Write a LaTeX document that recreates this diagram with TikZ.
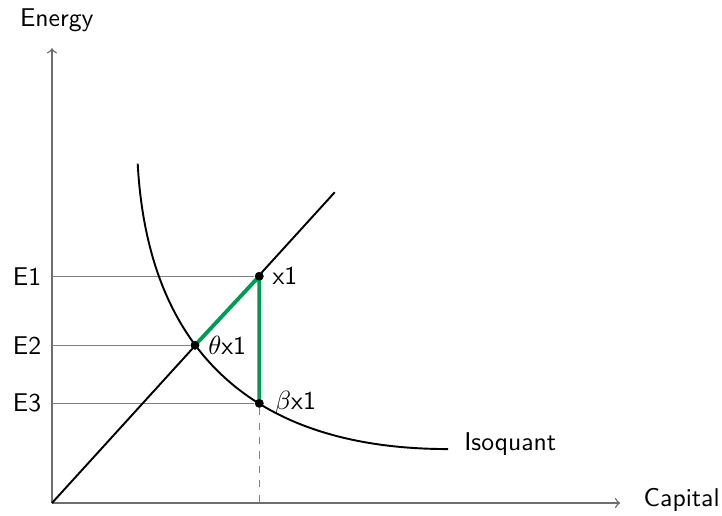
\documentclass[tikz,border=0pt]{standalone}
\usepackage{xcolor}
\usepackage{amsmath}
\usepackage{tikz}
\usetikzlibrary{positioning}
\definecolor{isogreen}{RGB}{0,154,84}
\definecolor{axisgray}{RGB}{110,110,110}

\begin{document}
\begin{tikzpicture}[font=\sffamily\fontsize{10.7pt}{13pt}\selectfont,
  axis/.style={->, axisgray, line width=0.6pt},
  guide/.style={gray, line width=0.4pt},
  dot/.style={circle, fill=black, inner sep=0pt, minimum size=3.6pt}]
\useasboundingbox (-0.761,-0.176) rectangle (9.81,7.365);

\coordinate (O) at (0,0);
\coordinate (xend) at (8.32,0);
\coordinate (yend) at (0,6.66);
\coordinate (rayend) at (4.14,4.55);
\coordinate (isostart) at (1.255,4.97);
\coordinate (isoend) at (5.80,0.79);

% axes
\draw[axis] (O) -- (xend);
\draw[axis] (O) -- (yend);
\node (energy) at (0.07,7.07) {Energy};
\node (capital) at (9.22,0.04) {Capital};

% points on the ray and the isoquant
\node[dot] (x1) at (3.035,3.32) {};
\node[dot] (tx1) at (2.094,2.31) {};
\node[dot] (bx1) at (3.035,1.46) {};

% energy levels
\node[left=1pt] (e1) at (0,3.32) {E1};
\node[left=1pt] (e2) at (0,2.31) {E2};
\node[left=1pt] (e3) at (0,1.46) {E3};
\draw[guide] (e1.east -| O) -- (x1);
\draw[guide] (e2.east -| O) -- (tx1);
\draw[guide] (e3.east -| O) -- (bx1);
\draw[guide, dashed] (bx1) -- (bx1 |- O);

% ray and isoquant
\draw[black, line width=0.8pt] (O) -- (rayend);
\draw[black, line width=0.8pt] (isostart) .. controls (1.395,2.37) and (2.8,0.79) .. (isoend);
\node (iso) at (6.71,0.86) {Isoquant};

% the green triangle
\draw[isogreen, line width=1.6pt] (tx1.center) -- (x1.center) -- (bx1.center);

\node[dot] at (x1) {};
\node[dot] at (tx1) {};
\node[dot] at (bx1) {};
\node[right=0pt of x1] (lx1) {x1};
\node[right=0pt of tx1] (ltx1) {$\theta$x1};
\node[right=1pt of bx1] (lbx1) {$\beta$x1};
\end{tikzpicture}
\end{document}
